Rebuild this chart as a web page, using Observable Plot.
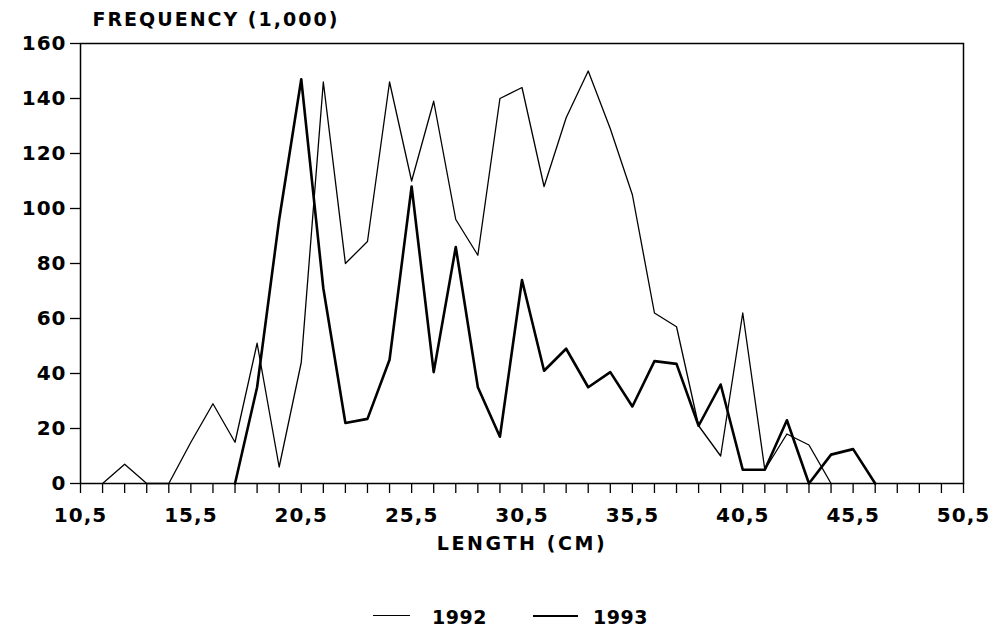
<!DOCTYPE html>
<html>
<head>
<meta charset="utf-8">
<script src="https://cdn.jsdelivr.net/npm/d3@7"></script>
<script src="https://cdn.jsdelivr.net/npm/@observablehq/plot@0.6"></script>
<style>
  html, body { margin: 0; padding: 0; background: #fff; }
  #wrap { position: relative; width: 997px; height: 634px; font-family: "DejaVu Sans", sans-serif; font-weight: bold; }
  .lg-line { position: absolute; height: 0; border-top-style: solid; border-top-color: #000; }
  .lg-text { position: absolute; font-size: 19px; letter-spacing: 0.5px; line-height: 24px; color: #000; }
</style>
</head>
<body>
<div id="wrap"></div>
<script>
// Length classes (cm) and frequencies (thousands)
const len1992 = [11.5,12.5,13.5,14.5,15.5,16.5,17.5,18.5,19.5,20.5,21.5,22.5,23.5,24.5,25.5,26.5,27.5,28.5,29.5,30.5,31.5,32.5,33.5,34.5,35.5,36.5,37.5,38.5,39.5,40.5,41.5,42.5,43.5,44.5];
const freq1992 = [0,7,0,0,15,29,15,51,6,44,146,80,88,146,110,139,96,83,140,144,108,133,150,129,105,62,57,21,10,62,5,18,14,0];
const len1993 = [17.5,18.5,19.5,20.5,21.5,22.5,23.5,24.5,25.5,26.5,27.5,28.5,29.5,30.5,31.5,32.5,33.5,34.5,35.5,36.5,37.5,38.5,39.5,40.5,41.5,42.5,43.5,44.5,45.5,46.5];
const freq1993 = [0,35,96,147,71,22,23.5,45,108,40.5,86,35,17,74,41,49,35,40.5,28,44.5,43.5,21,36,5,5,23,0,10.5,12.5,0];
const xMinorTicks = d3.range(10.5, 50.6, 1);
const xMajorTicks = [10.5,15.5,20.5,25.5,30.5,35.5,40.5,45.5,50.5];
const yTicks = [0,20,40,60,80,100,120,140,160];
const yLabel = "FREQUENCY (1,000)";
const xLabel = "LENGTH (CM)";
const seriesNames = ["1992", "1993"];

const d92 = len1992.map((x, i) => ({x, y: freq1992[i]}));
const d93 = len1993.map((x, i) => ({x, y: freq1993[i]}));

const chart = Plot.plot({
  width: 997,
  height: 634,
  marginLeft: 80,
  marginRight: 34,
  marginTop: 43,
  marginBottom: 151,
  style: {fontFamily: '"DejaVu Sans", sans-serif', fontSize: "20px", fontWeight: "bold", letterSpacing: "1px", color: "#000", background: "#fff"},
  x: {domain: [10.5, 50.5]},
  y: {domain: [0, 160]},
  marks: [
    Plot.axisX(xMinorTicks, {tickSize: 10, text: null, strokeWidth: 1.3, label: null}),
    Plot.axisX(xMajorTicks, {tickSize: 0, tickPadding: 24, tickFormat: d => String(d).replace(".", ","), label: null}),
    Plot.axisY(yTicks, {tickSize: 10, tickPadding: 4, strokeWidth: 1.3, label: null, fontSize: 20}),
    Plot.frame({stroke: "#000", strokeWidth: 1.5}),
    Plot.line(d92, {x: "x", y: "y", stroke: "#000", strokeWidth: 1.3}),
    Plot.line(d93, {x: "x", y: "y", stroke: "#000", strokeWidth: 2.6}),
    Plot.text([yLabel], {frameAnchor: "top-left", dx: 12, dy: -31, textAnchor: "start", fill: "#000", fontSize: 19}),
    Plot.text([xLabel], {frameAnchor: "bottom", dy: 66, fill: "#000", fontSize: 19})
  ]
});
// wider letter spacing on the two axis titles
d3.select(chart).selectAll("text").each(function() {
  const t = this.textContent;
  if (t === yLabel) this.style.letterSpacing = "2px";
  if (t === xLabel) this.style.letterSpacing = "2.6px";
});
const wrap = document.getElementById("wrap");
wrap.appendChild(chart);

// Legend (HTML, below the plot frame)
const legendItems = [
  {name: seriesNames[0], lineLeft: 373, lineW: 37, lw: 1.3, textLeft: 432},
  {name: seriesNames[1], lineLeft: 533, lineW: 45, lw: 2.6, textLeft: 593}
];
for (const it of legendItems) {
  const l = document.createElement("div");
  l.className = "lg-line";
  l.style.left = it.lineLeft + "px";
  l.style.top = (616 - it.lw / 2) + "px";
  l.style.width = it.lineW + "px";
  l.style.borderTopWidth = it.lw + "px";
  wrap.appendChild(l);
  const t = document.createElement("div");
  t.className = "lg-text";
  t.style.left = it.textLeft + "px";
  t.style.top = "605px";
  t.textContent = it.name;
  wrap.appendChild(t);
}
chart.style.position = "absolute";
chart.style.left = "0";
chart.style.top = "0";
</script>
</body>
</html>
